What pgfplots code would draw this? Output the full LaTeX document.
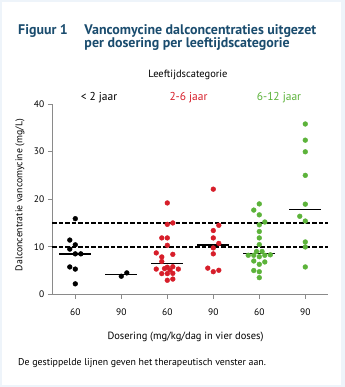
\documentclass[border=0pt]{standalone}
\usepackage{pgfplots}
\pgfplotsset{compat=1.18}
\usepackage{fontspec}
\setmainfont{PT Sans}
\definecolor{titleblue}{HTML}{1A4C6E}
\definecolor{frameblue}{HTML}{EEF4FA}
\definecolor{myred}{HTML}{D71E2A}
\definecolor{mygreen}{HTML}{5CB33A}
\definecolor{axgray}{HTML}{8A8A8A}
\begin{document}
\begin{tikzpicture}[x=1bp,y=1bp]
\fill[frameblue] (0,0) rectangle (345,387);
\fill[white] (2,2.3) rectangle (340.7,385);
\node[anchor=base west,inner sep=0,text=titleblue,font=\fontsize{14}{16}\selectfont\bfseries] at (18,352.7) {Figuur 1};
\node[anchor=base west,inner sep=0,text=titleblue,font=\fontsize{14}{16}\selectfont\bfseries] at (84.3,352.7) {Vancomycine dalconcentraties uitgezet};
\node[anchor=base west,inner sep=0,text=titleblue,font=\fontsize{14}{16}\selectfont\bfseries] at (84.3,339.5) {per dosering per leeftijdscategorie};
\node[anchor=base,inner sep=0,font=\fontsize{10.5}{12}\selectfont] at (188,309.3) {Leeftijdscategorie};
\node[anchor=base,inner sep=0,font=\fontsize{11.5}{13}\selectfont] at (99,286.5) {< 2 jaar};
\node[anchor=base,inner sep=0,text=myred,font=\fontsize{11.5}{13}\selectfont] at (188.5,286.5) {2-6 jaar};
\node[anchor=base,inner sep=0,text=mygreen,font=\fontsize{11.5}{13}\selectfont] at (279,286.5) {6-12 jaar};
\node[anchor=base,inner sep=0,font=\fontsize{10.5}{12}\selectfont] at (185.5,47.3) {Dosering (mg/kg/dag in vier doses)};
\node[anchor=base west,inner sep=0,font=\fontsize{9.9}{11}\selectfont] at (18,22) {De gestippelde lijnen geven het therapeutisch venster aan.};
\node[rotate=90,inner sep=0,font=\fontsize{9.8}{11}\selectfont] at (20,192) {Dalconcentratie vancomycine (mg/L)};
\begin{axis}[
  at={(52.3bp,92.7bp)}, anchor=south west,
  scale only axis, width=276bp, height=190.3bp,
  xmin=-0.5, xmax=5.5, ymin=0, ymax=40,
  axis lines=left, axis line style={-, axgray, line width=0.6bp},
  xtick={0,1,2,3,4,5}, xticklabels={60,90,60,90,60,90},
  ytick={0,10,20,30,40},
  tick align=outside, major tick length=4.5bp,
  tick style={axgray, line width=0.6bp},
  /pgf/number format/assume math mode=true,
  ticklabel style={font=\fontsize{9.5}{11}\selectfont},
  xticklabel style={yshift=-6bp},
  clip=false,
]
\addplot[black, line width=1.6bp, dash pattern=on 4.3bp off 2.2bp] coordinates {(-0.5,10) (5.5,10)};
\addplot[black, line width=1.6bp, dash pattern=on 4.3bp off 2.2bp] coordinates {(-0.5,15) (5.5,15)};
% < 2 jaar, 60
\addplot[only marks, color=black, mark=*, mark size=2.4bp, mark options={draw=none, fill=black}] coordinates {
(0,15.9) (-0.12,11.4) (0,10.4) (-0.12,9.5) (0,8.5) (0.12,8.5) (-0.12,5.75) (0,5.3) (0,2.2)};
% < 2 jaar, 90
\addplot[only marks, color=black, mark=*, mark size=2.4bp, mark options={draw=none, fill=black}] coordinates {
(1,3.8) (1.12,4.5)};
% 2-6 jaar, 60
\addplot[only marks, color=myred, mark=*, mark size=2.4bp, mark options={draw=none, fill=myred}] coordinates {
(2,19.2) (2,14.7) (2.12,15.0) (1.88,11.85) (2,11.85) (2,10.3) (1.76,8.7) (1.88,7.85) (2.12,8.4)
(1.88,6.9) (1.76,5.3) (1.94,5.4) (2,5.7) (2.12,5.8) (2.06,5.1) (2.24,5.3) (1.88,4.35) (2,4.35)
(2.12,4.4) (2,2.95) (2.12,3.2)};
% 2-6 jaar, 90
\addplot[only marks, color=myred, mark=*, mark size=2.4bp, mark options={draw=none, fill=myred}] coordinates {
(3,22.1) (3.12,14.5) (3,13.4) (3,11.85) (3.12,10.7) (3,9.75) (3,8.5) (2.88,5.5) (3,4.75) (3.12,5.05)};
% 6-12 jaar, 60
\addplot[only marks, color=mygreen, mark=*, mark size=2.4bp, mark options={draw=none, fill=mygreen}] coordinates {
(4,19.0) (3.88,17.7) (4,16.7) (4.12,15.2) (4,14.6) (4,13.2) (4,11.85) (4,10.45) (3.94,9.0) (4.06,9.0)
(3.76,8.2) (3.88,8.2) (4,7.9) (4.12,8.2) (4.24,8.3) (3.88,7.0) (4.12,6.8) (4,6.3) (3.88,5.0)
(4,4.75) (4,3.5)};
% 6-12 jaar, 90
\addplot[only marks, color=mygreen, mark=*, mark size=2.4bp, mark options={draw=none, fill=mygreen}] coordinates {
(5,35.8) (5,32.4) (5,29.95) (5,25.0) (5,18.95) (4.88,16.4) (5,15.4) (5,11.0) (5,9.95) (5,5.75)};
% medians
\addplot[black, line width=1.6bp] coordinates {(-0.35,8.5) (0.35,8.5)};
\addplot[black, line width=1.6bp] coordinates {(0.65,4.15) (1.35,4.15)};
\addplot[black, line width=1.6bp] coordinates {(1.65,6.5) (2.35,6.5)};
\addplot[black, line width=1.6bp] coordinates {(2.65,10.3) (3.35,10.3)};
\addplot[black, line width=1.6bp] coordinates {(3.65,8.55) (4.35,8.55)};
\addplot[black, line width=1.6bp] coordinates {(4.65,17.85) (5.35,17.85)};
\end{axis}
\end{tikzpicture}
\end{document}
